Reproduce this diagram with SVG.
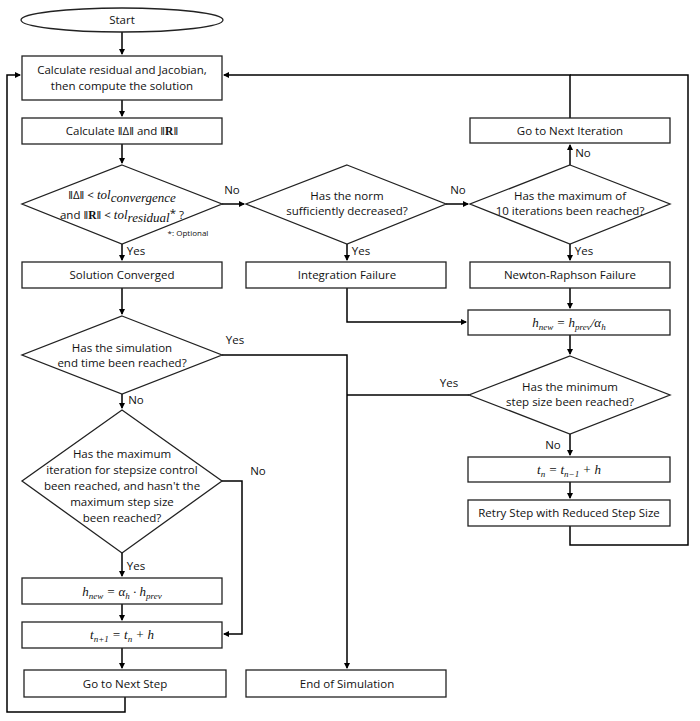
<svg xmlns="http://www.w3.org/2000/svg" width="700" height="721" viewBox="0 0 700 721">
<defs>
<style>
.n{fill:#fff;stroke:#222;stroke-width:1.3}
.c{fill:none;stroke:#000;stroke-width:1.5}
text{font-family:"Open Sans","Liberation Sans",sans-serif;font-size:11.5px;fill:#111;text-anchor:middle}
.m{font-family:"Liberation Serif",serif;font-style:italic;font-size:13px}
.s{font-size:8px}
</style>
<marker id="a" markerWidth="6" markerHeight="6" refX="5" refY="3" orient="auto" markerUnits="userSpaceOnUse"><path d="M0,0L6,3L0,6z" fill="#000"/></marker>
</defs>
<rect width="700" height="721" fill="#fff"/>
<g id="connectors">
<path class="c" d="M122,32V54" marker-end="url(#a)"/>
<path class="c" d="M122,100V116" marker-end="url(#a)"/>
<path class="c" d="M122,144V163" marker-end="url(#a)"/>
<path class="c" d="M122,244V260" marker-end="url(#a)"/>
<path class="c" d="M122,288V314" marker-end="url(#a)"/>
<path class="c" d="M122,394V408" marker-end="url(#a)"/>
<path class="c" d="M122,553V576" marker-end="url(#a)"/>
<path class="c" d="M122,604V620" marker-end="url(#a)"/>
<path class="c" d="M122,648V668" marker-end="url(#a)"/>
<path class="c" d="M125,697V712H7V75H20" marker-end="url(#a)"/>
<path class="c" d="M222,481H242V634H224" marker-end="url(#a)"/>
<path class="c" d="M222,204H244" marker-end="url(#a)"/>
<path class="c" d="M446,204H468" marker-end="url(#a)"/>
<path class="c" d="M347,244V260" marker-end="url(#a)"/>
<path class="c" d="M570,244V260" marker-end="url(#a)"/>
<path class="c" d="M570,165V145" marker-end="url(#a)"/>
<path class="c" d="M570,118V75H224" marker-end="url(#a)"/>
<path class="c" d="M347,288V322H466" marker-end="url(#a)"/>
<path class="c" d="M570,288V308" marker-end="url(#a)"/>
<path class="c" d="M570,335V354" marker-end="url(#a)"/>
<path class="c" d="M570,434V455" marker-end="url(#a)"/>
<path class="c" d="M570,482V498" marker-end="url(#a)"/>
<path class="c" d="M570,526V545H688V75H570"/>
<path class="c" d="M222,355H347V668" marker-end="url(#a)"/>
<path class="c" d="M469,395H347"/>
<text x="232" y="194">No</text>
<text x="458" y="194">No</text>
<text x="583" y="157">No</text>
<text x="136" y="255">Yes</text>
<text x="361" y="255">Yes</text>
<text x="584" y="255">Yes</text>
<text x="235" y="344">Yes</text>
<text x="136" y="404">No</text>
<text x="258" y="475">No</text>
<text x="136" y="570">Yes</text>
<text x="449" y="387">Yes</text>
<text x="553" y="449">No</text>
</g>
<g id="start"><ellipse class="n" cx="122" cy="20" rx="101" ry="12"/><text x="122" y="24">Start</text></g>
<g id="calc1"><rect class="n" x="22" y="56" width="200" height="44"/><text x="122" y="74">Calculate residual and Jacobian,</text><text x="122" y="90">then compute the solution</text></g>
<g id="calc2"><rect class="n" x="22" y="118" width="200" height="26"/><text x="122" y="135">Calculate ‖Δ‖ and ‖<tspan font-weight="bold" font-family="Liberation Serif">R</tspan>‖</text></g>
<g id="conv"><path class="n" d="M122,165L222,204L122,244L22,204Z"/>
<text x="122" y="199">‖Δ‖ &lt; <tspan class="m">tol</tspan><tspan class="m" font-size="10" dy="3">convergence</tspan></text>
<text x="122" y="219">and ‖<tspan font-weight="bold" font-family="Liberation Serif">R</tspan>‖ &lt; <tspan class="m">tol</tspan><tspan class="m" font-size="10" dy="3">residual</tspan><tspan dy="-5">*</tspan><tspan dy="2"> ?</tspan></text>
<text x="188" y="236" class="s">*: Optional</text></g>
<g id="converged"><rect class="n" x="22" y="262" width="200" height="26"/><text x="122" y="279">Solution Converged</text></g>
<g id="endtime"><path class="n" d="M122,316L222,355L122,394L22,355Z"/><text x="122" y="352">Has the simulation</text><text x="122" y="367">end time been reached?</text></g>
<g id="maxiter"><path class="n" d="M122,410L222,481L122,553L22,481Z"/><text x="122" y="458">Has the maximum</text><text x="122" y="474">iteration for stepsize control</text><text x="122" y="490">been reached, and hasn't the</text><text x="122" y="506">maximum step size</text><text x="122" y="522">been reached?</text></g>
<g id="hinc"><rect class="n" x="22" y="578" width="200" height="26"/><text class="m" x="122" y="596">h<tspan font-size="9" dy="3">new</tspan><tspan dy="-3"> = α</tspan><tspan font-size="9" dy="3">h</tspan><tspan dy="-3"> · h</tspan><tspan font-size="9" dy="3">prev</tspan></text></g>
<g id="tnext"><rect class="n" x="22" y="622" width="200" height="26"/><text class="m" x="122" y="639">t<tspan font-size="9" dy="3">n+1</tspan><tspan dy="-3"> = t</tspan><tspan font-size="9" dy="3">n</tspan><tspan dy="-3"> + h</tspan></text></g>
<g id="nextstep"><rect class="n" x="24" y="670" width="202" height="27"/><text x="125" y="688">Go to Next Step</text></g>
<g id="norm"><path class="n" d="M347,165L446,204L347,244L246,204Z"/><text x="347" y="200">Has the norm</text><text x="347" y="215">sufficiently decreased?</text></g>
<g id="intfail"><rect class="n" x="246" y="262" width="200" height="26"/><text x="347" y="279">Integration Failure</text></g>
<g id="endsim"><rect class="n" x="246" y="670" width="200" height="27"/><text x="347" y="688">End of Simulation</text></g>
<g id="max10"><path class="n" d="M570,165L670,204L570,244L470,204Z"/><text x="570" y="200">Has the maximum of</text><text x="570" y="215">10 iterations been reached?</text></g>
<g id="nextiter"><rect class="n" x="470" y="118" width="200" height="25"/><text x="570" y="135">Go to Next Iteration</text></g>
<g id="nrfail"><rect class="n" x="470" y="262" width="200" height="26"/><text x="570" y="279">Newton-Raphson Failure</text></g>
<g id="hdec"><rect class="n" x="468" y="310" width="202" height="25"/><text class="m" x="569" y="327">h<tspan font-size="9" dy="3">new</tspan><tspan dy="-3"> = h</tspan><tspan font-size="9" dy="3">prev</tspan><tspan dy="-3">/α</tspan><tspan font-size="9" dy="3">h</tspan></text></g>
<g id="minstep"><path class="n" d="M570,356L670,395L570,434L469,395Z"/><text x="570" y="391">Has the minimum</text><text x="570" y="406">step size been reached?</text></g>
<g id="tn"><rect class="n" x="468" y="457" width="202" height="25"/><text class="m" x="569" y="474">t<tspan font-size="9" dy="3">n</tspan><tspan dy="-3"> = t</tspan><tspan font-size="9" dy="3">n−1</tspan><tspan dy="-3"> + h</tspan></text></g>
<g id="retry"><rect class="n" x="468" y="500" width="202" height="26"/><text x="569" y="517">Retry Step with Reduced Step Size</text></g>
</svg>
